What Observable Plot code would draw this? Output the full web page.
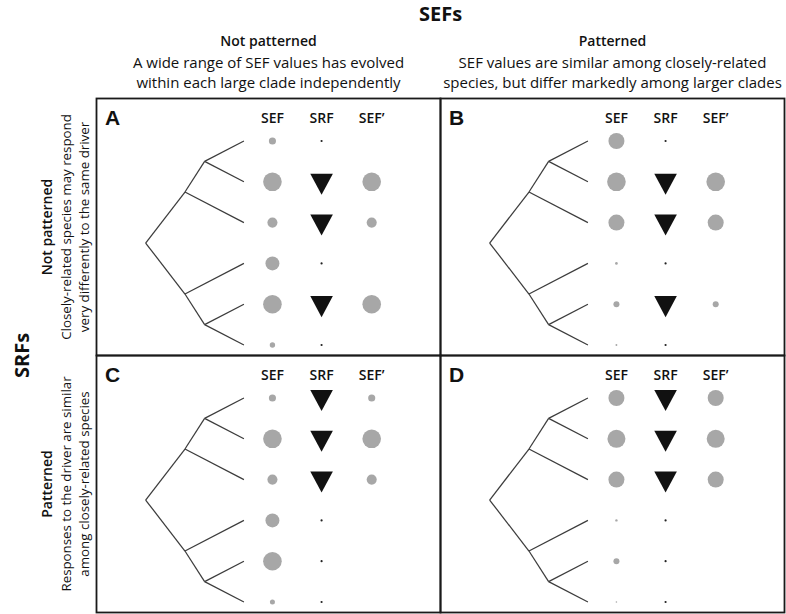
<!DOCTYPE html>
<html>
<head>
<meta charset="utf-8">
<script src="https://cdn.jsdelivr.net/npm/d3@7"></script>
<script src="https://cdn.jsdelivr.net/npm/@observablehq/plot@0.6"></script>
<style>
  html, body { margin: 0; padding: 0; background: #fff; }
  #chart svg { display: block; }
</style>
</head>
<body>
<div id="chart"></div>
<script>
// ---- Facet categories ----
const sefPatterns = ["Not patterned", "Patterned"];
const srfPatterns = ["Not patterned", "Patterned"];
const sefHeaderDesc = [
  "A wide range of SEF values has evolved\nwithin each large clade independently",
  "SEF values are similar among closely-related\nspecies, but differ markedly among larger clades"
];
const srfHeaderDesc = [
  "Closely-related species may respond\nvery differently to the same driver",
  "Responses to the driver are similar\namong closely-related species"
];

// ---- Panels ----
const panelLetters = ["A", "B", "C", "D"];
const panelSEF = ["Not patterned", "Patterned", "Not patterned", "Patterned"];
const panelSRF = ["Not patterned", "Not patterned", "Patterned", "Patterned"];

// ---- Trait columns ----
const traitNames = ["SEF", "SRF", "SEF\u2019"];
const traitPos = [1.29, 1.79, 2.30];

// ---- Tree (same topology in each panel) ----
const treeNodes  = ["root", "cladeI", "cladeIa", "t1", "t2", "t3", "cladeII", "cladeIIa", "t4", "t5", "t6"];
const treeParent = [null, "root", "cladeI", "cladeIa", "cladeIa", "cladeI", "root", "cladeII", "cladeII", "cladeIIa", "cladeIIa"];
const treeDepth  = [0, 0.40, 0.60, 1, 1, 1, 0.40, 0.60, 1, 1, 1];
const treeRow    = [2.5, 1.25, 0.5, 0, 1, 2, 3.75, 4.5, 3, 4, 5];

// ---- Species rows (tips 1..6) ----
const species = [0, 1, 2, 3, 4, 5];

// SEF value per species (circle area), per panel
const sefA = [14, 96, 28, 54, 96, 8];
const sefB = [71, 96, 71, 2, 10, 1];
const sefC = [14, 96, 28, 54, 96, 7];
const sefD = [71, 90, 71, 1.6, 10, 0.7];
// SRF response per species (1 = responds, 0 = no response)
const srfA = [0, 1, 1, 0, 1, 0];
const srfB = [0, 1, 1, 0, 1, 0];
const srfC = [1, 1, 1, 0, 0, 0];
const srfD = [1, 1, 1, 0, 0, 0];
// SEF' value per species
const sefPrimeA = [0, 96, 28, 0, 96, 0];
const sefPrimeB = [0, 96, 71, 0, 10, 0];
const sefPrimeC = [14, 96, 28, 0, 0, 0];
const sefPrimeD = [71, 90, 71, 0, 0, 0];

const sefByPanel = [sefA, sefB, sefC, sefD];
const srfByPanel = [srfA, srfB, srfC, srfD];
const sefPrimeByPanel = [sefPrimeA, sefPrimeB, sefPrimeC, sefPrimeD];

// ---- Build tables ----
const idx = Object.fromEntries(treeNodes.map((n, i) => [n, i]));
const edges = treeNodes.map((n, i) => ({n, p: treeParent[i], i}))
  .filter(d => d.p != null)
  .map(d => ({
    x1: treeDepth[idx[d.p]], y1: treeRow[idx[d.p]],
    x2: treeDepth[d.i], y2: treeRow[d.i]
  }));

const circles = [];
const responses = [];
panelLetters.forEach((L, p) => {
  species.forEach(s => {
    circles.push({fx: panelSEF[p], fy: panelSRF[p], x: traitPos[0], y: s, v: sefByPanel[p][s]});
    circles.push({fx: panelSEF[p], fy: panelSRF[p], x: traitPos[2], y: s, v: sefPrimeByPanel[p][s]});
    responses.push({fx: panelSEF[p], fy: panelSRF[p], x: traitPos[1], y: s, v: srfByPanel[p][s]});
  });
});

// Downward-pointing triangle symbol
const triangleDown = {
  draw(context, size) {
    const r = Math.sqrt(size / Math.PI);
    context.moveTo(-r, -0.72 * r);
    context.lineTo(r, -0.72 * r);
    context.lineTo(0, 1.15 * r);
    context.closePath();
  }
};

const textFont = "Open Sans";
const ink = "#111";

const chart = Plot.plot({
  width: 786,
  height: 614,
  marginLeft: 96,
  marginRight: 2,
  marginTop: 98,
  marginBottom: 2,
  fx: {domain: sefPatterns, padding: 0, axis: null},
  fy: {domain: srfPatterns, padding: 0, axis: null},
  x: {domain: [-0.5, 3], axis: null},
  y: {domain: [-1.042, 5.257], reverse: true, axis: null},
  r: {type: "sqrt", domain: [0, 100], range: [0, 9.5]},
  style: {fontFamily: textFont, color: ink, background: "#fff"},
  marks: [
    Plot.frame({stroke: "#1a1a1a", strokeWidth: 1.8}),
    // tree
    Plot.link(edges, {x1: "x1", y1: "y1", x2: "x2", y2: "y2", stroke: "#3c3c3c", strokeWidth: 1.25}),
    // trait column headers
    Plot.text(traitNames, {x: (d, i) => traitPos[i], text: d => d, frameAnchor: "top", dy: 20,
      lineAnchor: "middle", fontSize: 14, fontWeight: 600, fill: ink}),
    // panel letters
    Plot.text(panelLetters, {fx: (d, i) => panelSEF[i], fy: (d, i) => panelSRF[i], text: d => d,
      frameAnchor: "top-left", dx: 16, dy: 20, textAnchor: "middle", lineAnchor: "middle",
      fontFamily: "Liberation Sans", fontWeight: "bold", fontSize: 21, fill: ink}),
    // SEF and SEF' circles
    Plot.dot(circles, {fx: "fx", fy: "fy", x: "x", y: "y", r: "v", fill: "#a7a7a7"}),
    // SRF responses
    Plot.dot(responses.filter(d => d.v === 1), {fx: "fx", fy: "fy", x: "x", y: "y", r: 11.3,
      symbol: triangleDown, fill: "#111"}),
    Plot.dot(responses.filter(d => d.v === 0), {fx: "fx", fy: "fy", x: "x", y: "y", r: 1.1, fill: "#222"}),
    // top super title
    Plot.text(["SEFs"], {fx: () => sefPatterns[0], fy: () => srfPatterns[0], text: d => d,
      frameAnchor: "top-right", dy: -84, lineAnchor: "middle", textAnchor: "middle",
      fontSize: 20, fontWeight: "bold", fill: ink}),
    // top column headers
    Plot.text(sefPatterns, {fx: d => d, fy: () => srfPatterns[0], text: d => d,
      frameAnchor: "top", dy: -57, lineAnchor: "middle", fontSize: 14, fontWeight: 600, fill: ink}),
    Plot.text(sefHeaderDesc, {fx: (d, i) => sefPatterns[i], fy: () => srfPatterns[0], text: d => d,
      frameAnchor: "top", dy: -27, lineAnchor: "middle", lineHeight: 1.36, fontSize: 15, fill: ink}),
    // left super title
    Plot.text(["SRFs"], {fx: () => sefPatterns[0], fy: () => srfPatterns[0], text: d => d,
      frameAnchor: "bottom-left", dx: -74, rotate: -90, lineAnchor: "middle", textAnchor: "middle",
      fontSize: 20, fontWeight: "bold", fill: ink}),
    // left row headers
    Plot.text(srfPatterns, {fx: () => sefPatterns[0], fy: d => d, text: d => d,
      frameAnchor: "left", dx: -49, rotate: -90, lineAnchor: "middle", textAnchor: "middle",
      fontSize: 14, fontWeight: 600, fill: ink}),
    Plot.text(srfHeaderDesc, {fx: () => sefPatterns[0], fy: (d, i) => srfPatterns[i], text: d => d,
      frameAnchor: "left", dx: -22, rotate: -90, lineAnchor: "middle", textAnchor: "middle",
      lineHeight: 1.36, fontSize: 13.3, fill: ink})
  ]
});
document.getElementById("chart").appendChild(chart);
</script>
</body>
</html>
